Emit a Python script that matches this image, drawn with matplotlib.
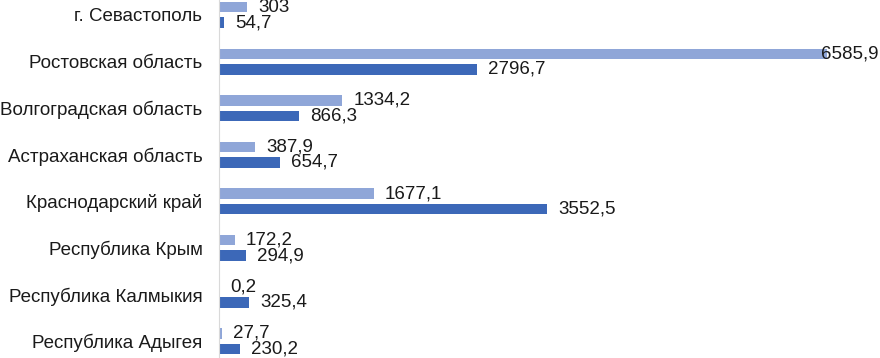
import matplotlib.pyplot as plt
import numpy as np

plt.rcParams['font.family'] = ['Liberation Sans', 'DejaVu Sans']

regions = ['г. Севастополь', 'Ростовская область', 'Волгоградская область',
           'Астраханская область', 'Краснодарский край', 'Республика Крым',
           'Республика Калмыкия', 'Республика Адыгея']
series_light = [303, 6585.9, 1334.2, 387.9, 1677.1, 172.2, 0.2, 27.7]
series_dark = [54.7, 2796.7, 866.3, 654.7, 3552.5, 294.9, 325.4, 230.2]

light_color = '#8FA6D8'
dark_color = '#3C68B8'
xmax = 7161


def fmt(v):
    s = ('%.1f' % v).rstrip('0').rstrip('.')
    return s.replace('.', ',')


def label(ax, v, yi):
    if v > 0.85 * xmax:
        # no room to the right of the bar: pin the label to the right edge
        ax.annotate(fmt(v), xy=(1.0, yi), xycoords=('axes fraction', 'data'),
                    xytext=(-1, 0), textcoords='offset points',
                    ha='right', va='center', fontsize=13.5, color='#1a1a1a')
    else:
        ax.annotate(fmt(v), xy=(v, yi), xytext=(8, 0), textcoords='offset points',
                    ha='left', va='center', fontsize=13.5, color='#1a1a1a')


fig = plt.figure(figsize=(8.8, 3.58), dpi=100)
ax = fig.add_axes([0.249, 0.0, 0.751, 1.0])

y = np.arange(len(regions))
h = 0.225
off = 0.166
ax.barh(y - off, series_light, height=h, color=light_color)
ax.barh(y + off, series_dark, height=h, color=dark_color)

for yi, v in zip(y, series_light):
    label(ax, v, yi - off)
for yi, v in zip(y, series_dark):
    label(ax, v, yi + off)

ax.set_xlim(0, xmax)
ax.set_ylim(7.36, -0.32)
ax.set_yticks(y)
ax.set_yticklabels(regions, fontsize=13.5, color='#1a1a1a')
ax.tick_params(axis='y', length=0, pad=12)
ax.set_xticks([])
for s in ['top', 'right', 'bottom']:
    ax.spines[s].set_visible(False)
ax.spines['left'].set_color('#D9D9D9')

fig.savefig('out.png', dpi=100)
